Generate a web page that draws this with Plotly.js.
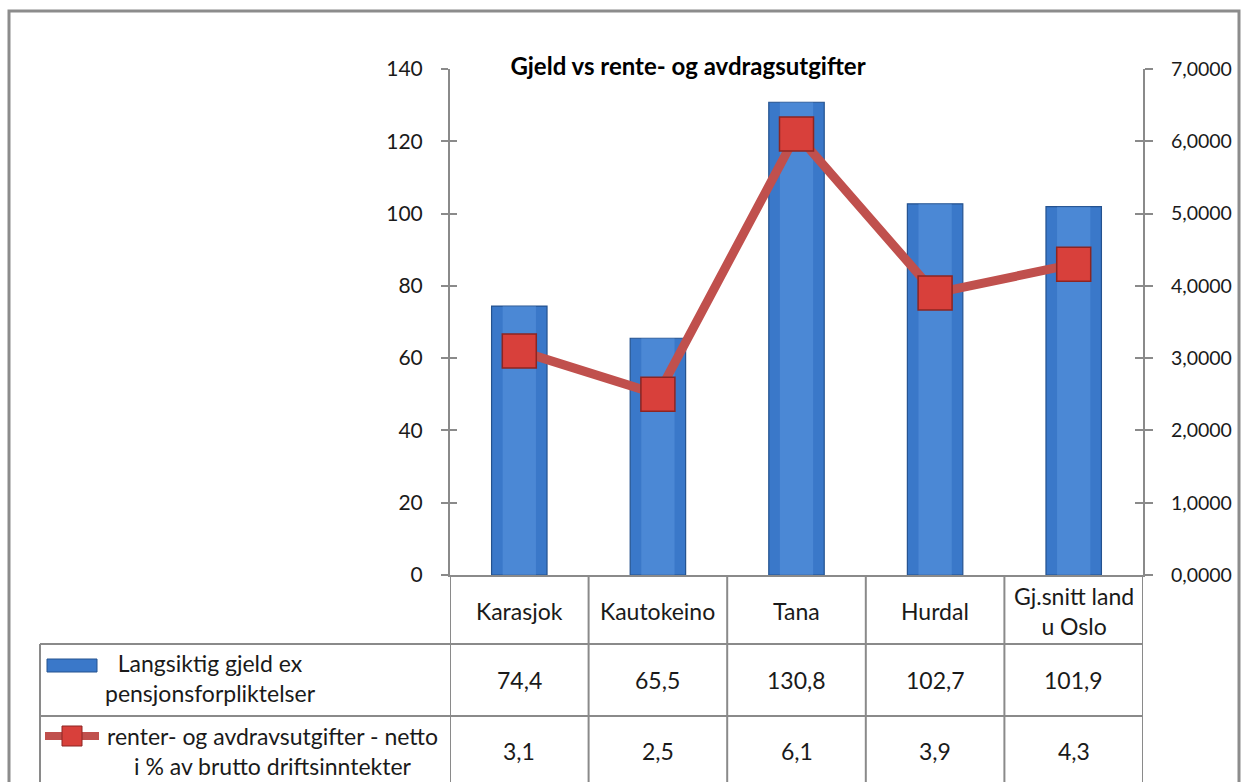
<!DOCTYPE html>
<html>
<head>
<meta charset="utf-8">
<script src="https://cdn.plot.ly/plotly-3.0.1.min.js"></script>
<style>
  html, body { margin: 0; padding: 0; background: #ffffff; }
  #chart { width: 1241px; height: 782px; }
</style>
</head>
<body>
<div id="chart"></div>
<script>
// ---- data ----
const categories = ['Karasjok', 'Kautokeino', 'Tana', 'Hurdal', 'Gj.snitt land u Oslo'];
const categoryLabels = ['Karasjok', 'Kautokeino', 'Tana', 'Hurdal', 'Gj.snitt land<br>u Oslo'];
const gjeld = [74.4, 65.5, 130.8, 102.7, 101.9];
const renter = [3.1, 2.5, 6.1, 3.9, 4.3];
const seriesNames = ['Langsiktig gjeld ex<br>pensjonsforpliktelser', 'renter- og avdravsutgifter - netto<br>i % av brutto driftsinntekter'];
const chartTitle = 'Gjeld vs rente- og avdragsutgifter';

// ---- geometry helpers (pixels -> paper) ----
const W = 1241, H = 782;
const px = x => x / W;
const py = y => 1 - y / H;

const FONT = 'Lato, "Open Sans", sans-serif';
const TXT = '#1a1a1a';
const GRID = '#8a8a8a';

const fmt = v => v.toFixed(1).replace('.', ',');

const xDomain = [px(450), px(1143)];
const yDomain = [py(575), py(69)];

const traces = [
  {
    type: 'bar', x: categories, y: gjeld, name: 'gjeld', width: 0.4,
    marker: { color: '#3a78c9', line: { color: '#24528f', width: 1.2 } },
    hoverinfo: 'skip', showlegend: false
  },
  {
    type: 'bar', x: categories, y: gjeld, name: 'gjeldHighlight', width: 0.24,
    marker: { color: 'rgba(110,165,235,0.35)', line: { width: 0 } },
    hoverinfo: 'skip', showlegend: false
  },
  {
    type: 'scatter', mode: 'lines+markers', x: categories, y: renter, yaxis: 'y2',
    line: { color: '#c0504d', width: 9 },
    marker: { symbol: 'square', size: 34, color: '#d8403b', line: { color: '#8c2522', width: 1.5 } },
    hoverinfo: 'skip', showlegend: false
  },
  { type: 'scatter', mode: 'none', x: categories, y: gjeld, yaxis: 'y3', hoverinfo: 'skip', showlegend: false },
  { type: 'scatter', mode: 'none', x: categories, y: renter, yaxis: 'y4', hoverinfo: 'skip', showlegend: false }
];

const shapes = [];
const annotations = [];

// outer chart border
shapes.push({ type: 'rect', xref: 'paper', yref: 'paper', x0: px(9), x1: px(1239), y0: py(800), y1: py(11),
  line: { color: '#8c8c8c', width: 3 }, layer: 'below' });

// table lines
const tableLine = { color: GRID, width: 2 };
for (let i = 0; i <= categories.length; i++) {
  shapes.push({ type: 'line', xref: 'x', yref: 'paper', x0: i - 0.5, x1: i - 0.5, y0: py(575), y1: py(790), line: tableLine });
}
shapes.push({ type: 'line', xref: 'paper', yref: 'paper', x0: px(40), x1: px(1143), y0: py(644), y1: py(644), line: tableLine });
shapes.push({ type: 'line', xref: 'paper', yref: 'paper', x0: px(40), x1: px(1143), y0: py(716), y1: py(716), line: tableLine });
shapes.push({ type: 'line', xref: 'paper', yref: 'paper', x0: px(40), x1: px(40), y0: py(644), y1: py(790), line: tableLine });

// legend keys
shapes.push({ type: 'rect', xref: 'paper', yref: 'paper', x0: px(47), x1: px(97), y0: py(672), y1: py(659),
  fillcolor: '#3a78c9', line: { color: '#24528f', width: 1 } });
shapes.push({ type: 'line', xref: 'paper', yref: 'paper', x0: px(45), x1: px(99), y0: py(736), y1: py(736),
  line: { color: '#c0504d', width: 8 } });
shapes.push({ type: 'rect', xref: 'paper', yref: 'paper', x0: px(62), x1: px(82), y0: py(746), y1: py(726),
  fillcolor: '#d8403b', line: { color: '#8c2522', width: 1 } });

const tf = { family: FONT, size: 23, color: TXT };
const tickf = { family: FONT, size: 21, color: TXT };

// category row
categories.forEach((c, i) => {
  annotations.push({ xref: 'x', yref: 'paper', x: c, y: py(611), text: categoryLabels[i], showarrow: false,
    font: tf, xanchor: 'center', yanchor: 'middle', align: 'center' });
  annotations.push({ xref: 'x', yref: 'paper', x: c, y: py(680), text: fmt(gjeld[i]), showarrow: false,
    font: tf, xanchor: 'center', yanchor: 'middle' });
  annotations.push({ xref: 'x', yref: 'paper', x: c, y: py(751), text: fmt(renter[i]), showarrow: false,
    font: tf, xanchor: 'center', yanchor: 'middle' });
});

// series names in table
annotations.push({ xref: 'paper', yref: 'paper', x: px(210), y: py(678), text: seriesNames[0], showarrow: false,
  font: tf, xanchor: 'center', yanchor: 'middle', align: 'center' });
annotations.push({ xref: 'paper', yref: 'paper', x: px(272), y: py(751), text: seriesNames[1], showarrow: false,
  font: tf, xanchor: 'center', yanchor: 'middle', align: 'center' });

const layout = {
  width: W, height: H,
  margin: { l: 0, r: 0, t: 0, b: 0 },
  paper_bgcolor: '#ffffff', plot_bgcolor: '#ffffff',
  separators: ', ',
  font: { family: FONT, size: 21, color: TXT },
  title: { text: '<b>' + chartTitle + '</b>', x: px(688), y: py(67), xanchor: 'center', yanchor: 'middle',
    xref: 'paper', yref: 'paper', font: { family: FONT, size: 24, color: '#000' } },
  bargap: 0.6, barmode: 'overlay',
  xaxis: {
    domain: xDomain, type: 'category', range: [-0.5, categories.length - 0.5],
    showticklabels: false, ticks: '', showgrid: false, zeroline: false,
    showline: true, linecolor: GRID, linewidth: 2, fixedrange: true
  },
  yaxis: {
    domain: yDomain, range: [0, 140], dtick: 20, tick0: 0,
    showgrid: false, zeroline: false, showline: true, linecolor: GRID, linewidth: 2,
    ticks: 'outside', ticklen: 7, tickwidth: 2, tickcolor: GRID, ticklabelstandoff: 14,
    tickfont: tickf, fixedrange: true
  },
  yaxis2: {
    overlaying: 'y', side: 'right', range: [0, 7], dtick: 1, tick0: 0, tickformat: '.4f',
    showgrid: false, zeroline: false, showline: true, linecolor: GRID, linewidth: 2,
    ticks: 'outside', ticklen: 8, tickwidth: 2, tickcolor: GRID, ticklabelstandoff: 14,
    tickfont: { family: FONT, size: 19.5, color: TXT }, fixedrange: true
  },
  yaxis3: {
    overlaying: 'y', side: 'left', range: [0, 140], dtick: 20, tick0: 0,
    showgrid: false, zeroline: false, showline: false, showticklabels: false,
    ticks: 'inside', ticklen: 7, tickwidth: 2, tickcolor: GRID, fixedrange: true
  },
  yaxis4: {
    overlaying: 'y', side: 'right', range: [0, 7], dtick: 1, tick0: 0,
    showgrid: false, zeroline: false, showline: false, showticklabels: false,
    ticks: 'inside', ticklen: 8, tickwidth: 2, tickcolor: GRID, fixedrange: true
  },
  shapes: shapes,
  annotations: annotations
};

Plotly.newPlot('chart', traces, layout, { staticPlot: true, displayModeBar: false });
</script>
</body>
</html>
